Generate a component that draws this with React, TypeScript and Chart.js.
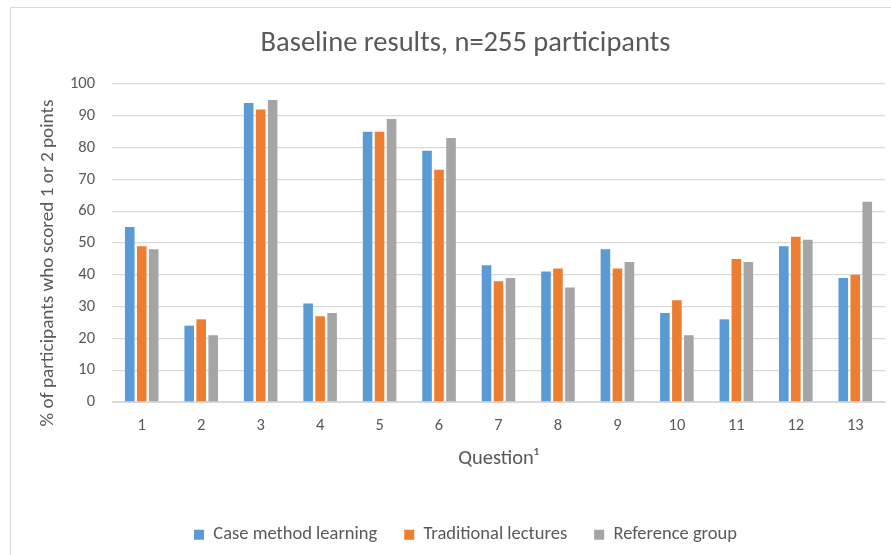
import React, { useEffect, useRef } from "react";
import { Chart, registerables } from "chart.js";

Chart.register(...registerables);

const questions = ["1", "2", "3", "4", "5", "6", "7", "8", "9", "10", "11", "12", "13"];
const caseMethod = [55, 24, 94, 31, 85, 79, 43, 41, 48, 28, 26, 49, 39];
const traditional = [49, 26, 92, 27, 85, 73, 38, 42, 42, 32, 45, 52, 40];
const reference = [48, 21, 95, 28, 89, 83, 39, 36, 44, 21, 44, 51, 63];
const seriesNames = ["Case method learning", "Traditional lectures", "Reference group"];
const yTicks = [0, 10, 20, 30, 40, 50, 60, 70, 80, 90, 100];

const FONT = "Carlito, Lato, 'Open Sans', sans-serif";
const TEXT = "#595959";
const GRID = "#d9d9d9";

const yTitlePlugin = {
  id: "yTitleCustom",
  afterDraw(chart: any) {
    const ctx = chart.ctx;
    ctx.save();
    ctx.translate(48, 263);
    ctx.rotate(-Math.PI / 2);
    ctx.font = `19.2px ${FONT}`;
    ctx.fillStyle = TEXT;
    ctx.textAlign = "center";
    ctx.textBaseline = "middle";
    ctx.fillText("% of participants who scored 1 or 2 points", 0, 0);
    ctx.restore();
  },
};

export default function App() {
  const ref = useRef<HTMLCanvasElement | null>(null);
  useEffect(() => {
    if (!ref.current) return;
    const chart = new Chart(ref.current, {
      type: "bar",
      data: {
        labels: questions,
        datasets: [
          { label: seriesNames[0], data: caseMethod, backgroundColor: "#5B9BD5" },
          { label: seriesNames[1], data: traditional, backgroundColor: "#ED7D31" },
          { label: seriesNames[2], data: reference, backgroundColor: "#A5A5A5" },
        ],
      },
      options: {
        responsive: false,
        animation: false,
        devicePixelRatio: 1,
        layout: { padding: { left: 46, right: 6, top: 0, bottom: 1 } },
        datasets: { bar: { categoryPercentage: 0.605, barPercentage: 0.8 } },
        plugins: {
          title: {
            display: true,
            text: "Baseline results, n=255 participants",
            color: TEXT,
            font: { family: FONT, size: 28.5, weight: "normal" },
            padding: { top: 27, bottom: 22.8 },
          },
          legend: {
            position: "bottom",
            labels: {
              color: TEXT,
              font: { family: FONT, size: 18.5 },
              boxWidth: 10,
              boxHeight: 10,
              padding: 27,
            },
          },
          tooltip: { enabled: false },
        },
        scales: {
          x: {
            afterFit: (scale: any) => {
              scale.height = 96.5;
            },
            grid: { display: false, drawTicks: false },
            border: { display: true, color: GRID },
            ticks: { color: TEXT, font: { family: FONT, size: 16.5 }, padding: 14 },
            title: {
              display: true,
              text: "Question¹",
              color: TEXT,
              font: { family: FONT, size: 20.5 },
              padding: { top: 0, bottom: 27.5 },
            },
          },
          y: {
            min: 0,
            max: 100,
            afterFit: (scale: any) => {
              scale.width = 66;
            },
            afterBuildTicks: (scale: any) => {
              scale.ticks = yTicks.map((v) => ({ value: v }));
            },
            grid: { color: GRID, lineWidth: 1.3, drawTicks: false },
            border: { display: false },
            ticks: { color: TEXT, font: { family: FONT, size: 16.5 }, padding: 17 },
          },
        },
      },
      plugins: [yTitlePlugin],
    });
    return () => chart.destroy();
  }, []);

  return (
    <div style={{ position: "absolute", left: 0, top: 0, width: 891, height: 555, background: "#fff", overflow: "hidden" }}>
      <div
        style={{
          position: "absolute",
          left: 10,
          top: 7,
          width: 900,
          height: 600,
          borderLeft: `1.5px solid ${GRID}`,
          borderTop: `1.5px solid ${GRID}`,
        }}
      />
      <canvas ref={ref} width={891} height={555} style={{ position: "absolute", left: 0, top: 0, width: 891, height: 555 }} />
    </div>
  );
}
